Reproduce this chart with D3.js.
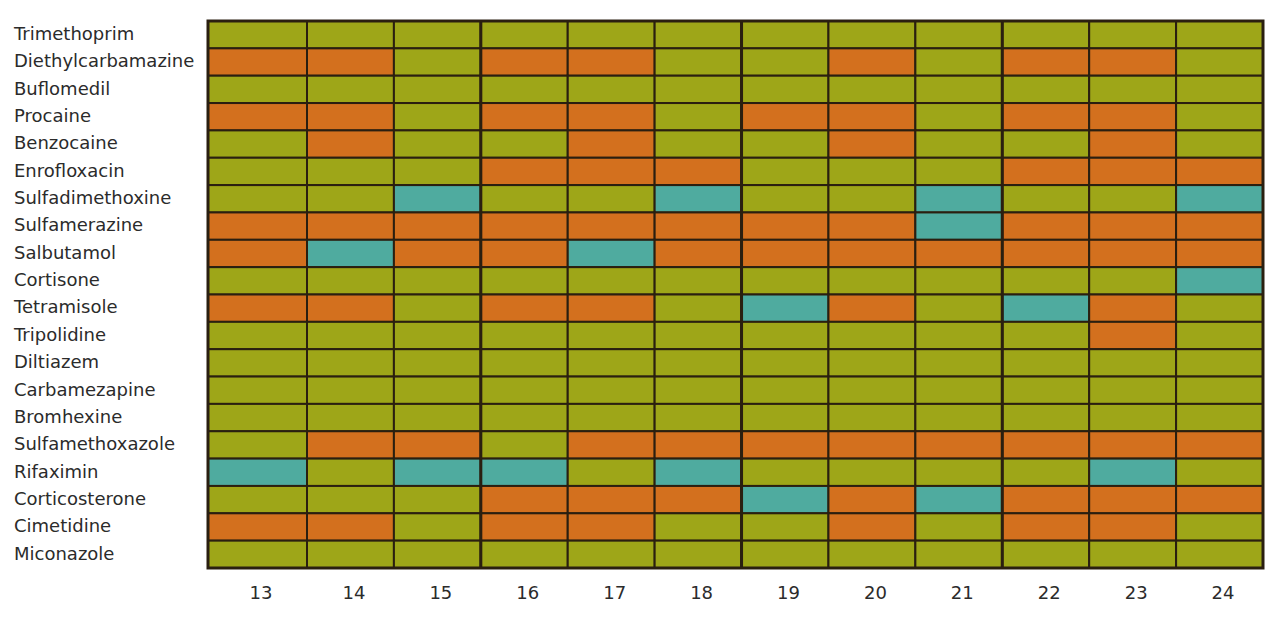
<!DOCTYPE html>
<html>
<head>
<meta charset="utf-8">
<script src="https://cdn.jsdelivr.net/npm/d3@7"></script>
<style>
  html, body { margin: 0; padding: 0; background: #ffffff; }
  svg { display: block; }
</style>
</head>
<body>
<svg id="chart" width="1280" height="620"></svg>
<script>
// ---- data ----
const drugs = [
  "Trimethoprim", "Diethylcarbamazine", "Buflomedil", "Procaine", "Benzocaine",
  "Enrofloxacin", "Sulfadimethoxine", "Sulfamerazine", "Salbutamol", "Cortisone",
  "Tetramisole", "Tripolidine", "Diltiazem", "Carbamezapine", "Bromhexine",
  "Sulfamethoxazole", "Rifaximin", "Corticosterone", "Cimetidine", "Miconazole"
];
const columns = ["13", "14", "15", "16", "17", "18", "19", "20", "21", "22", "23", "24"];
const statusKeys = ["G", "O", "T"];
// one string per drug, one letter per column (G = green, O = orange, T = teal)
const cellCodes = [
  "GGGGGGGGGGGG", // Trimethoprim
  "OOGOOGGOGOOG", // Diethylcarbamazine
  "GGGGGGGGGGGG", // Buflomedil
  "OOGOOGOOGOOG", // Procaine
  "GOGGOGGOGGOG", // Benzocaine
  "GGGOOOGGGOOO", // Enrofloxacin
  "GGTGGTGGTGGT", // Sulfadimethoxine
  "OOOOOOOOTOOO", // Sulfamerazine
  "OTOOTOOOOOOO", // Salbutamol
  "GGGGGGGGGGGT", // Cortisone
  "OOGOOGTOGTOG", // Tetramisole
  "GGGGGGGGGGOG", // Tripolidine
  "GGGGGGGGGGGG", // Diltiazem
  "GGGGGGGGGGGG", // Carbamezapine
  "GGGGGGGGGGGG", // Bromhexine
  "GOOGOOOOOOOO", // Sulfamethoxazole
  "TGTTGTGGGGTG", // Rifaximin
  "GGGOOOTOTOOO", // Corticosterone
  "OOGOOGGOGOOG", // Cimetidine
  "GGGGGGGGGGGG"  // Miconazole
];
const groupSize = 3;

(function () {
  // ---- layout ----
  const svg = d3.select("#chart");
  const gLeft = 208, gRight = 1263, gTop = 21, gBottom = 568;
  const firstColEnd = 307;

  const x = d3.scaleLinear()
    .domain([0, 1, columns.length])
    .range([gLeft, firstColEnd, gRight]);
  const y = d3.scaleBand().domain(drugs).range([gTop, gBottom]);
  const color = d3.scaleOrdinal().domain(statusKeys).range(["#9ea618", "#d3701e", "#4fab9f"]);
  const lineColor = "#2a1f10";

  const cells = [];
  drugs.forEach((d, r) => {
    cellCodes[r].split("").forEach((c, i) => cells.push({ drug: d, col: i, code: c }));
  });

  svg.append("g").selectAll("rect").data(cells).join("rect")
    .attr("x", d => x(d.col))
    .attr("y", d => y(d.drug))
    .attr("width", d => x(d.col + 1) - x(d.col))
    .attr("height", y.bandwidth())
    .attr("fill", d => color(d.code))
    .attr("stroke", lineColor)
    .attr("stroke-width", 2);

  // group separators
  const groupEdges = d3.range(groupSize, columns.length, groupSize);
  svg.append("g").selectAll("line").data(groupEdges).join("line")
    .attr("x1", d => x(d)).attr("x2", d => x(d))
    .attr("y1", gTop).attr("y2", gBottom)
    .attr("stroke", lineColor).attr("stroke-width", 3);

  // outer border
  svg.append("rect")
    .attr("x", gLeft).attr("y", gTop)
    .attr("width", gRight - gLeft).attr("height", gBottom - gTop)
    .attr("fill", "none").attr("stroke", lineColor).attr("stroke-width", 3);

  // row labels
  svg.append("g").selectAll("text").data(drugs).join("text")
    .attr("x", 14)
    .attr("y", d => y(d) + y.bandwidth() / 2 - 1)
    .attr("dy", "0.35em")
    .attr("font-family", "'DejaVu Sans', Verdana, sans-serif")
    .attr("font-size", 18)
    .attr("fill", "#2b2b2b")
    .text(d => d);

  // column axis
  const xAxis = d3.axisBottom(x)
    .tickValues(d3.range(columns.length).map(i => i + 0.5))
    .tickFormat((d, i) => columns[i])
    .tickSize(0)
    .tickPadding(0);
  const ax = svg.append("g")
    .attr("transform", `translate(3, ${gBottom + 18})`)
    .call(xAxis);
  ax.select(".domain").remove();
  ax.selectAll("text")
    .attr("font-family", "'DejaVu Sans', Verdana, sans-serif")
    .attr("font-size", 18)
    .attr("fill", "#2b2b2b");
})();
</script>
</body>
</html>
